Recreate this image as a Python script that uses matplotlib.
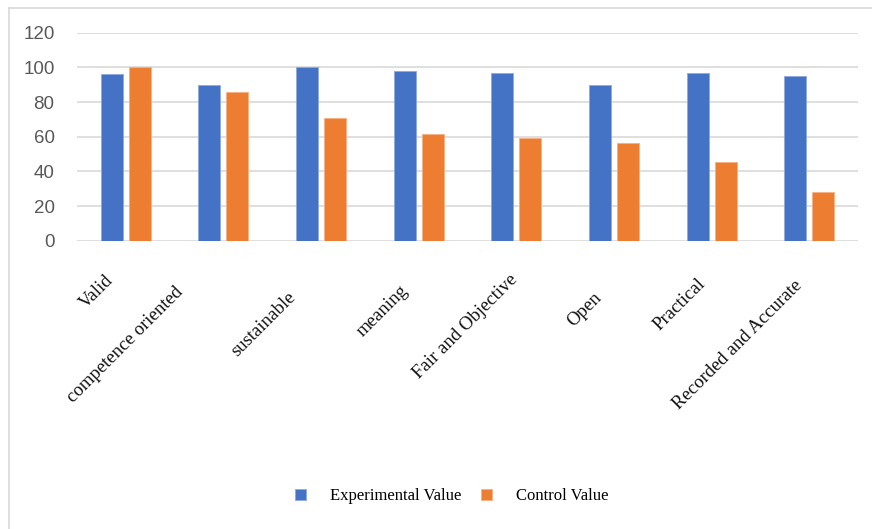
import numpy as np
import matplotlib
matplotlib.use("Agg")
import matplotlib.pyplot as plt
from matplotlib.lines import Line2D

categories = ["Valid", "competence oriented", "sustainable", "meaning",
              "Fair and Objective", "Open", "Practical", "Recorded and Accurate"]
experimental = [96.5, 90, 100, 98, 96.7, 90, 96.7, 95.2]
control = [100, 85.7, 71, 61.6, 59.5, 56.4, 45.4, 28]
yticks = [0, 20, 40, 60, 80, 100, 120]

# hand-placed label nudges (pixels) relative to each category centre
label_nudge = [(-15, -37), (-43, -49), (-28, -54), (-13, -47),
               (-1, -36), (-15, -54), (-9, -41), (-10, -42)]

blue = "#4472C4"
orange = "#ED7D31"
grid = "#D9D9D9"

fig = plt.figure(figsize=(8.72, 5.29), dpi=100)
ax = fig.add_axes([0.088, 0.545, 0.896, 0.393])

x = np.arange(len(categories))
w = 0.225
off = 0.143
b1 = ax.bar(x - off, experimental, w, color=blue, edgecolor="#8FA9DC", linewidth=0.6,
            label="Experimental Value", zorder=3)
b2 = ax.bar(x + off, control, w, color=orange, edgecolor="#F4B183", linewidth=0.6,
            label="Control Value", zorder=3)

ax.set_xlim(-0.5, len(categories) - 0.5)
ax.set_ylim(0, 120)
ax.set_yticks(yticks)
ax.yaxis.grid(True, color=grid, linewidth=1.2, zorder=0)
ax.tick_params(axis="y", length=0, pad=16, labelsize=13.5, labelcolor="#595959")
for lab in ax.get_yticklabels():
    lab.set_family("Liberation Sans")
ax.set_xticks([])
for s in ax.spines.values():
    s.set_visible(False)

for i, (name, (dx, dy)) in enumerate(zip(categories, label_nudge)):
    ax.annotate(name, xy=(i, 0), xycoords="data", xytext=(dx, dy),
                textcoords="offset pixels", rotation=45, rotation_mode="anchor",
                ha="right", va="center", fontsize=13.5, family="Liberation Serif",
                color="#111111", annotation_clip=False)

fig.legend(handles=[b1, b2], loc="center", bbox_to_anchor=(0.518, 0.062), ncol=2,
           frameon=False, prop={"family": "Liberation Serif", "size": 12},
           handlelength=0.66, handleheight=0.66, handletextpad=1.45,
           columnspacing=1.2)

# light frame along top and left edges
fig.add_artist(Line2D([8.5 / 872, 1], [1 - 7.5 / 529] * 2, color=grid, lw=1.2))
fig.add_artist(Line2D([8.5 / 872] * 2, [0, 1 - 7.5 / 529], color=grid, lw=1.2))

fig.savefig("out.png", dpi=100)
